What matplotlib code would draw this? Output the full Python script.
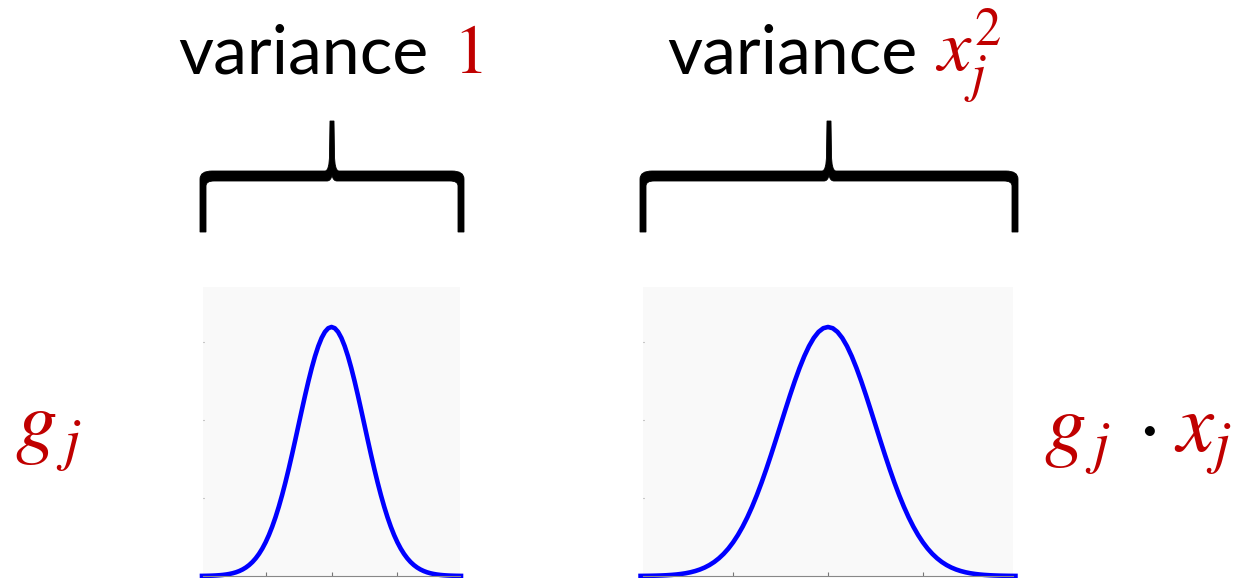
import numpy as np
import matplotlib
matplotlib.use("Agg")
import matplotlib.pyplot as plt
from matplotlib.path import Path
from matplotlib.patches import PathPatch

plt.rcParams['mathtext.fontset'] = 'stix'

# standard normal density, read at x = 0, 0.1, ..., 4.0 (curve is symmetric)
half_x = [round(0.1 * i, 1) for i in range(41)]
half_y = [0.39894, 0.39695, 0.39104, 0.38139, 0.36827, 0.35207, 0.33322,
          0.31225, 0.28969, 0.26609, 0.24197, 0.21785, 0.19419, 0.17137,
          0.14973, 0.12952, 0.11092, 0.09405, 0.07895, 0.06562, 0.05399,
          0.04398, 0.03547, 0.02833, 0.02239, 0.01753, 0.01358, 0.01042,
          0.00792, 0.00595, 0.00443, 0.00327, 0.00238, 0.00172, 0.00123,
          0.00087, 0.00061, 0.00042, 0.00029, 0.00020, 0.00013]
xs = [-v for v in half_x[::-1]] + half_x[1:]
dens = half_y[::-1] + half_y[1:]

xticks = [-2, 0, 2]
yticks = [0.125, 0.25, 0.375]

RED = '#c00000'
W, H = 1233, 578

fig = plt.figure(figsize=(W / 100, H / 100), dpi=100)

# overlay in pixel coordinates for the braces and labels
over = fig.add_axes([0, 0, 1, 1], zorder=0)
over.set_xlim(0, W)
over.set_ylim(H, 0)
over.axis('off')


def brace(ax, x0, x1, ytop, ybar, ybot):
    xc = (x0 + x1) / 2
    h, t = 3.0, 5.0
    L, C = Path.LINETO, Path.CURVE3
    pts = [
        ((x0 - h, ybot), Path.MOVETO), ((x0 - h, ybar + 3), L),
        ((x0 - h, ybar - t), C), ((x0 + 9, ybar - t), C),
        ((xc - 7, ybar - t), L),
        ((xc - 2.5, ybar - t), C), ((xc - 2.5, ybar - 22), C),
        ((xc - 2, ytop), L), ((xc + 2, ytop), L),
        ((xc + 2.5, ybar - 22), L),
        ((xc + 2.5, ybar - t), C), ((xc + 7, ybar - t), C),
        ((x1 - 9, ybar - t), L),
        ((x1 + h, ybar - t), C), ((x1 + h, ybar + 3), C),
        ((x1 + h, ybot), L), ((x1 - h, ybot), L),
        ((x1 - h, ybar + 10), L),
        ((x1 - h, ybar + t), C), ((x1 - 11, ybar + t), C),
        ((xc + 5, ybar + t), L),
        ((xc + 1, ybar + t), C), ((xc, ybar - 1), C),
        ((xc - 1, ybar + t), C), ((xc - 5, ybar + t), C),
        ((x0 + 11, ybar + t), L),
        ((x0 + h, ybar + t), C), ((x0 + h, ybar + 10), C),
        ((x0 + h, ybot), L), ((x0 - h, ybot), Path.CLOSEPOLY),
    ]
    verts, codes = zip(*pts)
    ax.add_patch(PathPatch(Path(verts, codes), fc='black', ec='black', lw=0.6))


brace(over, 203, 461, 121, 176, 232)
brace(over, 643, 1015, 121, 176, 232)

over.text(178, 73, 'variance', family='Lato', fontsize=49, va='baseline', ha='left')
over.text(453, 73, r'$1$', color=RED, fontsize=50, va='baseline', ha='left')
over.text(667, 73, 'variance', family='Lato', fontsize=49, va='baseline', ha='left')
over.text(935, 73, r'$x_{j}^{2}$', color=RED, fontsize=54, va='baseline', ha='left')

over.text(15, 449, r'$g_{\,j}$', color=RED, fontsize=60, va='baseline', ha='left')

# right-hand label: g_j . x_j, pieces placed separately
over.text(1044, 452, r'$g_{\,j}$', color=RED, fontsize=60, va='baseline', ha='left')
over.text(1146, 426, r'$\cdot$', color='black', fontsize=60, va='center', ha='center')
over.text(1174, 452, r'$x_{j}$', color=RED, fontsize=60, va='baseline', ha='left')


def density_panel(rect):
    ax = fig.add_axes(rect, zorder=1)
    ax.set_facecolor('#f9f9f9')
    ax.plot(xs, dens, color='#0000ff', lw=3.3, solid_joinstyle='round',
            solid_capstyle='butt', clip_on=False)
    ax.set_xlim(-3.9, 3.9)
    ax.set_ylim(0, 0.463)
    ax.set_xticks(xticks)
    ax.set_yticks(yticks)
    ax.set_xticklabels([])
    ax.set_yticklabels([])
    ax.tick_params(axis='x', direction='in', length=3, width=0.8, color='#777777')
    ax.tick_params(axis='y', direction='in', length=1, width=0.8, color='#999999')
    for side in ['top', 'right', 'left']:
        ax.spines[side].set_visible(False)
    ax.spines['bottom'].set_color('#888888')
    ax.spines['bottom'].set_linewidth(0.8)
    return ax


density_panel([203 / W, 2 / H, 257 / W, 289 / H])
density_panel([643 / W, 2 / H, 370 / W, 289 / H])

fig.savefig('out.png', dpi=100, facecolor='white')
